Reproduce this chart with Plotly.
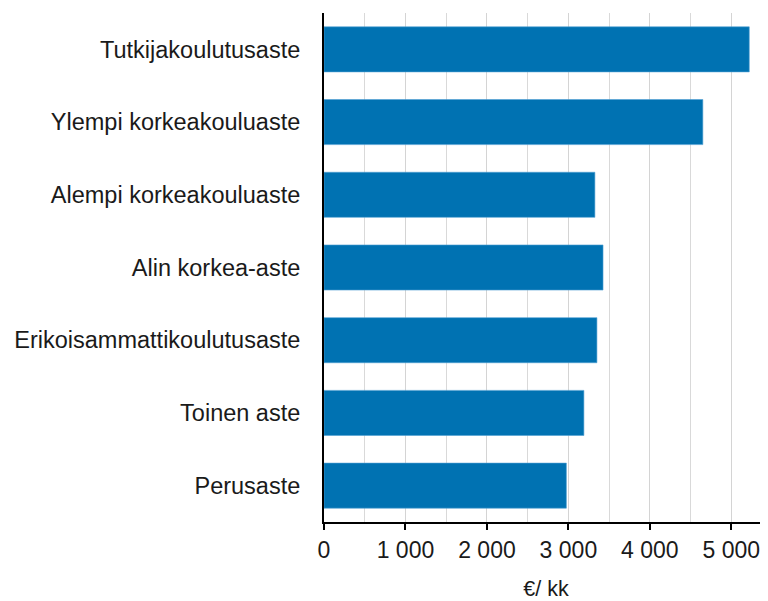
import plotly.graph_objects as go

categories = ["Tutkijakoulutusaste", "Ylempi korkeakouluaste", "Alempi korkeakouluaste",
              "Alin korkea-aste", "Erikoisammattikoulutusaste", "Toinen aste", "Perusaste"]
values = [5220, 4650, 3325, 3425, 3350, 3190, 2975]
tick_vals = [0, 1000, 2000, 3000, 4000, 5000]
tick_text = ["0", "1 000", "2 000", "3 000", "4 000", "5 000"]
x_title = "€/ kk"

fig = go.Figure(go.Bar(
    x=values, y=categories, orientation="h",
    marker=dict(color="#0072B2", line=dict(color="#4f9fd4", width=0.6)),
    width=0.62,
))

# page body has an 8px margin, so the figure is sized 8px smaller
fig.update_layout(
    width=760, height=593,
    margin=dict(l=316, r=0, t=5, b=79),
    paper_bgcolor="white", plot_bgcolor="white",
    font=dict(family="Liberation Sans, Arial", size=23, color="#1a1a1a"),
    showlegend=False,
)
fig.update_xaxes(
    range=[0, 5450], tickvals=tick_vals, ticktext=tick_text,
    showgrid=True, gridcolor="#d4d4d4", gridwidth=1,
    minor=dict(dtick=500, tick0=0, showgrid=True, gridcolor="#d9d9d9", gridwidth=1),
    showline=True, linecolor="black", linewidth=2,
    ticks="outside", ticklen=6, tickwidth=2, tickcolor="black",
    tickfont=dict(size=23),
    title=dict(text=x_title, standoff=22, font=dict(size=21.5)),
    zeroline=False, automargin=False,
)
fig.update_yaxes(
    categoryorder="array", categoryarray=categories[::-1],
    showline=True, linecolor="black", linewidth=2,
    ticks="", ticklabelstandoff=17, showgrid=False,
    tickfont=dict(size=23.5), automargin=False,
)

fig.write_html("out.html")
